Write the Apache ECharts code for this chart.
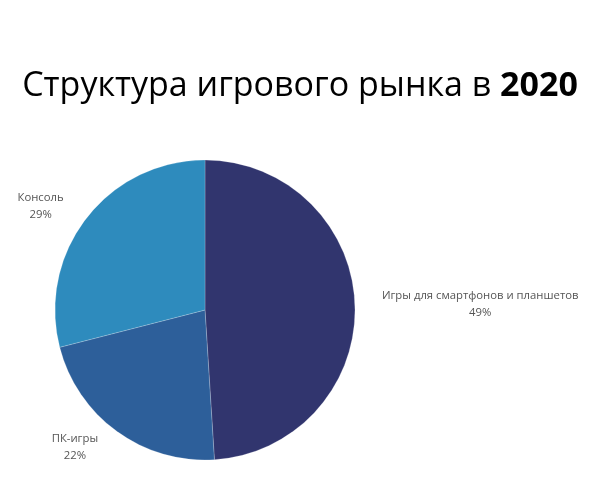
<!DOCTYPE html>
<html>
<head>
<meta charset="utf-8">
<script src="https://cdn.jsdelivr.net/npm/echarts@6/dist/echarts.min.js"></script>
<style>
  html, body { margin: 0; padding: 0; background: #fff; }
  #chart { width: 600px; height: 500px; }
</style>
</head>
<body>
<div id="chart"></div>
<script>
const categories = ["Игры для смартфонов и планшетов", "ПК-игры", "Консоль"];
const shares = [49, 22, 29];
const colors = ["#31356e", "#2d5f9a", "#2e8bbd"];

const chart = echarts.init(document.getElementById("chart"));

const data = categories.map((name, i) => ({
  name,
  value: shares[i],
  itemStyle: { color: colors[i] },
}));

chart.setOption({
  animation: false,
  title: {
    text: "{n|Структура игрового рынка в }{b|2020}",
    left: "center",
    top: 64,
    textStyle: {
      rich: {
        n: { fontFamily: "Open Sans", fontSize: 34, color: "#000", fontWeight: "normal" },
        b: { fontFamily: "Open Sans", fontSize: 34, color: "#000", fontWeight: "bold" },
      },
    },
  },
  series: [
    {
      type: "pie",
      center: [205, 310],
      radius: 150,
      startAngle: 90,
      clockwise: true,
      data,
      itemStyle: { borderColor: "rgba(255,255,255,0.4)", borderWidth: 0.5 },
      label: {
        show: true,
        position: "outside",
        formatter: "{t|{b}}\n{t|{d}%}",
        rich: {
          t: {
            align: "center",
            fontFamily: "Open Sans",
            fontSize: 11.3,
            color: "#555",
            lineHeight: 17,
          },
        },
      },
      labelLine: { show: false, length: 20, length2: 2 },
    },
  ],
});
</script>
</body>
</html>
